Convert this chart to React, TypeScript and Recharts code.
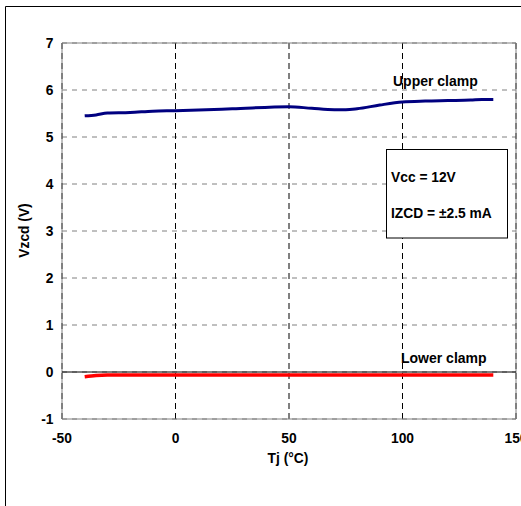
import React from "react";
import { LineChart, Line, XAxis, YAxis, CartesianGrid, ReferenceLine, ReferenceArea } from "recharts";

const upperTemps = [-40, -35, -30, -20, -10, 0, 25, 50, 60, 70, 75, 80, 90, 100, 110, 120, 130, 135, 140];
const upperVolts = [5.45, 5.47, 5.51, 5.52, 5.55, 5.56, 5.6, 5.645, 5.61, 5.58, 5.58, 5.6, 5.68, 5.745, 5.765, 5.775, 5.785, 5.8, 5.8];
const lowerTemps = [-40, -35, -30, 0, 50, 100, 140];
const lowerVolts = [-0.1, -0.075, -0.065, -0.065, -0.065, -0.065, -0.065];
const xTicks = [-50, 0, 50, 100, 150];
const yTicks = [-1, 0, 1, 2, 3, 4, 5, 6, 7];

const upperData = upperTemps.map((t, i) => ({ t, v: upperVolts[i] }));
const lowerData = lowerTemps.map((t, i) => ({ t, v: lowerVolts[i] }));

const FONT = "Arial, 'Liberation Sans', sans-serif";
const FS = 13.8;

const XTick = (props: any) => {
  const { x, y, payload } = props;
  return (
    <text x={x} y={y + 24} textAnchor="middle" fontFamily={FONT} fontWeight="bold" fontSize={FS} fill="#000">
      {payload.value}
    </text>
  );
};

const YTick = (props: any) => {
  const { y, payload } = props;
  return (
    <text x={53.5} y={y + 5} textAnchor="end" fontFamily={FONT} fontWeight="bold" fontSize={FS} fill="#000">
      {payload.value}
    </text>
  );
};

export default function App() {
  return (
    <div style={{ position: "absolute", left: 0, top: 0, width: 521, height: 506, overflow: "hidden", background: "#fff" }}>
      <div style={{ position: "absolute", left: 0, top: 0 }}>
        <LineChart width={530} height={510} margin={{ top: 43, right: 14, bottom: 61, left: 2 }}>
          <CartesianGrid horizontal={true} vertical={false} stroke="#808080" strokeDasharray="5 5" />
          <CartesianGrid horizontal={false} vertical={true} stroke="#000" strokeDasharray="6 4" />
          <XAxis
            type="number"
            dataKey="t"
            domain={[-50, 150]}
            ticks={xTicks}
            axisLine={false}
            tickLine={false}
            tickSize={0}
            tickMargin={0}
            height={30}
            tick={<XTick />}
            allowDataOverflow
          />
          <YAxis
            type="number"
            dataKey="v"
            domain={[-1, 7]}
            ticks={yTicks}
            axisLine={false}
            tickLine={false}
            tickSize={0}
            tickMargin={0}
            width={60}
            tick={<YTick />}
            allowDataOverflow
          />
          <ReferenceArea x1={-50} x2={150} y1={-1} y2={7} fill="none" stroke="#808080" strokeWidth={1} ifOverflow="visible" />
          <ReferenceLine y={0} stroke="#000" strokeWidth={1} />
          <Line data={upperData} dataKey="v" type="monotone" stroke="#000080" strokeWidth={3} dot={false} isAnimationActive={false} />
          <Line data={lowerData} dataKey="v" type="monotone" stroke="#ff0000" strokeWidth={3.5} dot={false} isAnimationActive={false} />
        </LineChart>
      </div>
      <svg width={521} height={506} style={{ position: "absolute", left: 0, top: 0, pointerEvents: "none" }}>
        <line x1={5.5} y1={6.5} x2={521} y2={6.5} stroke="#000" strokeWidth={1} />
        <line x1={5.5} y1={6.5} x2={5.5} y2={506} stroke="#000" strokeWidth={1} />
        <text x={29} y={230.5} transform="rotate(-90, 29, 230.5)" textAnchor="middle" fontFamily={FONT} fontWeight="bold" fontSize={FS} fill="#000">
          Vzcd (V)
        </text>
        <text x={288} y={463} textAnchor="middle" fontFamily={FONT} fontWeight="bold" fontSize={FS} fill="#000">
          Tj (°C)
        </text>
        <text x={393} y={86} fontFamily={FONT} fontWeight="bold" fontSize={14} fill="#000">
          Upper clamp
        </text>
        <text x={401} y={363} fontFamily={FONT} fontWeight="bold" fontSize={14} fill="#000">
          Lower clamp
        </text>
        <rect x={386.5} y={149.5} width={121} height={88.5} fill="#fff" stroke="#000" strokeWidth={1} />
        <text x={391} y={181.5} fontFamily={FONT} fontWeight="bold" fontSize={FS} fill="#000">
          Vcc = 12V
        </text>
        <text x={391} y={218.3} fontFamily={FONT} fontWeight="bold" fontSize={FS} fill="#000">
          IZCD = ±2.5 mA
        </text>
      </svg>
    </div>
  );
}
